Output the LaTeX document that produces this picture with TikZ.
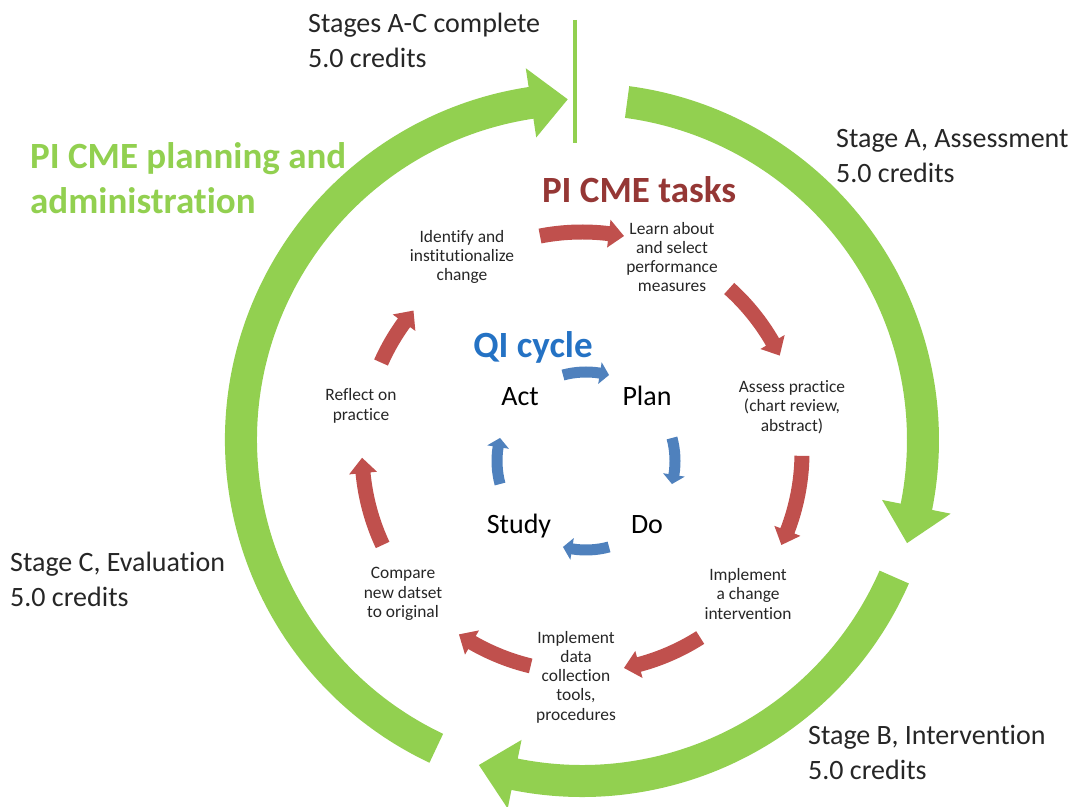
\documentclass[tikz,border=0pt]{standalone}
\usepackage{fontspec}
\setmainfont{Carlito}[Ligatures=NoCommon]
\definecolor{ogreen}{RGB}{146,208,80}
\definecolor{ored}{RGB}{192,80,77}
\definecolor{oblue}{RGB}{79,129,189}
\definecolor{dred}{RGB}{149,55,53}
\definecolor{tblue}{RGB}{36,114,196}
\definecolor{tgray}{RGB}{38,38,38}
% #1,#2 centre, #3 radius, #4 shaft width, #5 head width, #6 start angle, #7 head-base angle, #8 tip angle, #9 colour
\newcommand{\cycarrow}[9]{%
  \fill[#9, shift={(#1,#2)}] (#6:{#3+#4/2}) arc[start angle=#6, end angle=#7, radius={#3+#4/2}]
    -- (#7:{#3+#5/2}) -- (#8:#3) -- (#7:{#3-#5/2}) -- (#7:{#3-#4/2})
    arc[start angle=#7, end angle=#6, radius={#3-#4/2}] -- cycle;}
\tikzset{
  lbl/.style={font=\fontsize{28}{35}\selectfont, text=tgray, align=left, inner sep=0pt, anchor=west},
  task/.style={font=\fontsize{17.4}{19.3}\selectfont, text=tgray, align=center, inner sep=0pt},
  qi/.style={font=\fontsize{28}{34}\selectfont, text=black, inner sep=0pt, anchor=base},
  hdr/.style={font=\bfseries\fontsize{37}{45}\selectfont, inner sep=0pt}
}
\begin{document}
\begin{tikzpicture}[x=1pt,y=1pt]
\useasboundingbox (0,0) rectangle (1076,806);
% outer green cycle (centre 582,366; r 340)
\cycarrow{582}{366}{341}{32}{70}{82.4}{-11.3}{-17.6}{ogreen}
\cycarrow{582}{366}{341}{32}{70}{-23.7}{-101.4}{-107.6}{ogreen}
\cycarrow{582}{366}{341}{32}{70}{244.7}{98.6}{92.4}{ogreen}
\draw[ogreen, line width=4pt] (575,786) -- (575,663);
% red task cycle
\cycarrow{582}{354}{220}{15}{28}{101}{83}{79}{ored}
\cycarrow{582}{354}{220}{15}{28}{48}{30}{26}{ored}
\cycarrow{582}{354}{220}{15}{28}{-1}{-21}{-25}{ored}
\cycarrow{582}{354}{220}{15}{28}{-57.5}{-75}{-79}{ored}
\cycarrow{582}{354}{220}{15}{28}{-103.5}{-120}{-124}{ored}
\cycarrow{582}{354}{220}{15}{28}{205}{185.5}{181.5}{ored}
\cycarrow{582}{354}{220}{15}{28}{156}{144}{140}{ored}
% blue QI cycle
\cycarrow{586}{345}{89}{11}{22}{105}{81}{75}{oblue}
\cycarrow{586}{345}{89}{11}{22}{15}{-9}{-15}{oblue}
\cycarrow{586}{345}{89}{11}{22}{-75}{-99}{-105}{oblue}
\cycarrow{586}{345}{89}{11}{22}{195}{171}{165}{oblue}
% stage labels
\node[lbl] (sAC) at (308,766) {Stages A-C complete\\5.0 credits};
\node[lbl] (sA) at (836,650) {Stage A, Assessment\\5.0 credits};
\node[lbl] (sC) at (10,227) {Stage C, Evaluation\\5.0 credits};
\node[lbl] (sB) at (808,54) {Stage B, Intervention\\5.0 credits};
% headings
\node[hdr, text=ogreen, align=left, anchor=west] (plan) at (30,628) {PI CME planning and\\administration};
\node[hdr, text=dred] (tasks) at (639,616) {PI CME tasks};
\node[hdr, text=tblue] (qicyc) at (533,459) {QI cycle};
% QI cycle steps
\node[qi] (act) at (520,400) {Act};
\node[qi] (plan2) at (647,400) {Plan};
\node[qi] (study) at (519,272) {Study};
\node[qi] (do) at (647,272) {Do};
% task labels
\node[task] (ident) at (462,549) {Identify and\\institutionalize\\change};
\node[task] (learn) at (672,549) {Learn about\\and select\\performance\\measures};
\node[task] (assess) at (792,399) {Assess practice\\(chart review,\\abstract)};
\node[task] (implc) at (748,212) {Implement\\a change\\intervention};
\node[task] (impld) at (576,129) {Implement\\data\\collection\\tools,\\procedures};
\node[task] (comp) at (403,212) {Compare\\new datset\\to original};
\node[task] (refl) at (361,400) {Reflect on\\practice};
\end{tikzpicture}
\end{document}
